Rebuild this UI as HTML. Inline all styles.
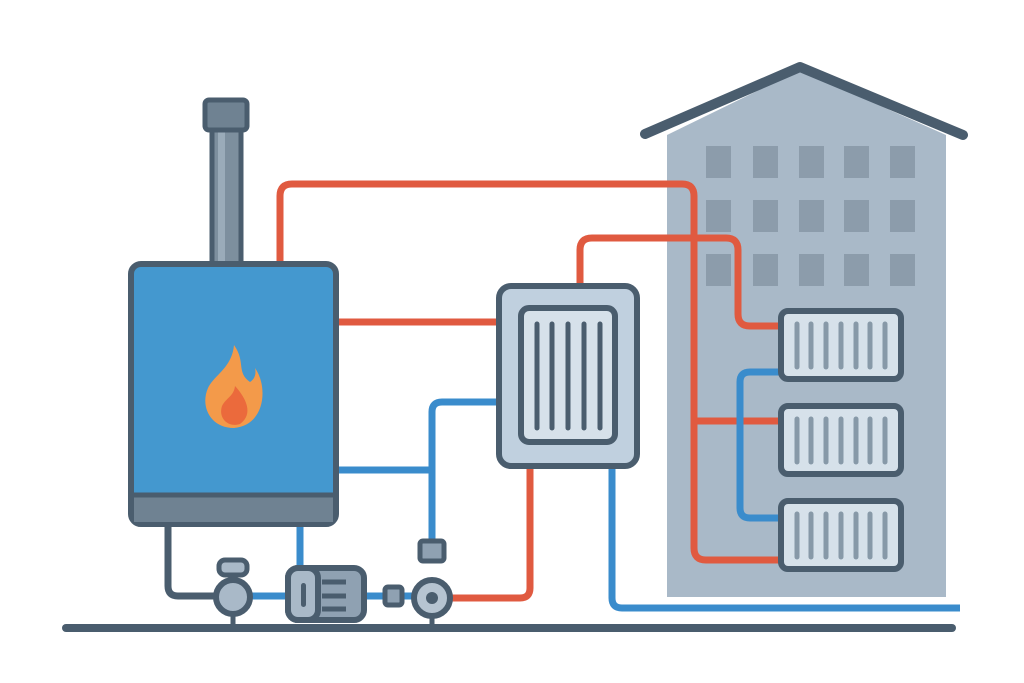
<!DOCTYPE html>
<html><head><style>html,body{margin:0;padding:0;background:#fff}svg{display:block}</style></head>
<body>
<svg width="1024" height="683" viewBox="0 0 1024 683" xmlns="http://www.w3.org/2000/svg">
<rect width="1024" height="683" fill="#fff"/>
<!-- building -->
<polygon points="667,135 800,70 946,135 946,597 667,597" fill="#a9b9c8"/>
<polyline points="645,134 800,67 963,135" fill="none" stroke="#4a5d6e" stroke-width="10" stroke-linejoin="round" stroke-linecap="round"/>
<g fill="#8c9cab">
<rect x="706" y="146" width="25" height="32"/><rect x="753" y="146" width="25" height="32"/><rect x="799" y="146" width="25" height="32"/><rect x="844" y="146" width="25" height="32"/><rect x="890" y="146" width="25" height="32"/>
<rect x="706" y="200" width="25" height="32"/><rect x="753" y="200" width="25" height="32"/><rect x="799" y="200" width="25" height="32"/><rect x="844" y="200" width="25" height="32"/><rect x="890" y="200" width="25" height="32"/>
<rect x="706" y="254" width="25" height="32"/><rect x="753" y="254" width="25" height="32"/><rect x="799" y="254" width="25" height="32"/><rect x="844" y="254" width="25" height="32"/><rect x="890" y="254" width="25" height="32"/>
</g>
<!-- pipes -->
<g fill="none" stroke-width="7" stroke-linejoin="round">
<path d="M280,264 V196 Q280,184 292,184 H682 Q694,184 694,196 V548 Q694,560 706,560 H782" stroke="#e05a40"/>
<path d="M694,421 H782" stroke="#e05a40"/>
<path d="M580,285 V250 Q580,238 592,238 H726 Q738,238 738,250 V314 Q738,326 750,326 H782" stroke="#e05a40"/>
<path d="M337,322 H500" stroke="#e05a40"/>
<path d="M530,466 V588 Q530,598 520,598 H450" stroke="#e05a40"/>
<path d="M782,372 H750 Q740,372 740,382 V508 Q740,518 750,518 H782" stroke="#3a8ccc"/>
<path d="M612,466 V598 Q612,608 622,608 H960" stroke="#3a8ccc"/>
<path d="M500,402 H442 Q432,402 432,412 V545" stroke="#3a8ccc"/>
<path d="M337,470 H432" stroke="#3a8ccc"/>
<path d="M300,524 V570" stroke="#3a8ccc"/>
<path d="M250,596 H290 M362,596 H390 M400,596 H420" stroke="#3a8ccc"/>
<path d="M168,525 V586 Q168,596 178,596 H218" stroke="#4a5d6e"/>
</g>
<!-- ground -->
<line x1="66" y1="628" x2="952" y2="628" stroke="#4a5d6e" stroke-width="8" stroke-linecap="round"/>
<!-- chimney -->
<rect x="212" y="128" width="29" height="136" fill="#7d8f9e" stroke="#4a5d6e" stroke-width="5"/>
<rect x="218" y="131" width="7" height="130" fill="#9aabb9"/>
<rect x="205" y="100" width="42" height="30" rx="4" fill="#6f8292" stroke="#4a5d6e" stroke-width="5"/>
<!-- boiler -->
<rect x="131" y="264" width="205" height="260" rx="10" fill="#4498cf" stroke="#4a5d6e" stroke-width="6"/>
<rect x="134" y="495" width="199" height="27" fill="#6f8292"/>
<line x1="134" y1="495" x2="333" y2="495" stroke="#4a5d6e" stroke-width="5"/>
<path d="M234,345 C246,362 236,372 250,382 C256,378 256,372 255,368 C268,386 266,425 234,428 C210,428 200,406 208,388 C214,375 232,368 234,345 Z" fill="#f39a4a"/>
<path d="M235,386 C246,398 254,414 240,424 C228,428 218,418 222,406 C226,398 234,396 235,386 Z" fill="#eb6a3c"/>
<!-- heat exchanger -->
<rect x="499" y="286" width="138" height="180" rx="12" fill="#c0d0df" stroke="#4a5d6e" stroke-width="6"/>
<rect x="521" y="308" width="94" height="134" rx="8" fill="#d6e1ea" stroke="#4a5d6e" stroke-width="6"/>
<g stroke="#4a5d6e" stroke-width="5" stroke-linecap="round">
<line x1="537" y1="324" x2="537" y2="428"/><line x1="552" y1="324" x2="552" y2="428"/><line x1="568" y1="324" x2="568" y2="428"/><line x1="584" y1="324" x2="584" y2="428"/><line x1="600" y1="324" x2="600" y2="428"/>
</g>
<!-- radiators -->
<g id="rad">
<rect x="781" y="311" width="120" height="68" rx="7" fill="#d6e1ea" stroke="#4a5d6e" stroke-width="6"/>
<g stroke="#8799a8" stroke-width="5" stroke-linecap="round">
<line x1="797" y1="324" x2="797" y2="367"/><line x1="811" y1="324" x2="811" y2="367"/><line x1="826" y1="324" x2="826" y2="367"/><line x1="841" y1="324" x2="841" y2="367"/><line x1="856" y1="324" x2="856" y2="367"/><line x1="870" y1="324" x2="870" y2="367"/><line x1="885" y1="324" x2="885" y2="367"/>
</g>
</g>
<use href="#rad" y="95"/>
<use href="#rad" y="190"/>
<!-- pumps -->
<rect x="219" y="560" width="28" height="15" rx="6" fill="#a9b9c8" stroke="#4a5d6e" stroke-width="5"/>
<line x1="233" y1="575" x2="233" y2="582" stroke="#4a5d6e" stroke-width="5"/>
<circle cx="233" cy="597" r="17" fill="#a9b9c8" stroke="#4a5d6e" stroke-width="6"/>
<line x1="233" y1="614" x2="233" y2="625" stroke="#4a5d6e" stroke-width="5"/>
<rect x="288" y="568" width="76" height="52" rx="10" fill="#8fa1b2" stroke="#4a5d6e" stroke-width="6"/>
<rect x="288" y="568" width="30" height="52" rx="10" fill="#a9b9c8" stroke="#4a5d6e" stroke-width="6"/>
<rect x="301" y="583" width="5" height="24" rx="2.5" fill="#4a5d6e"/>
<path d="M322,582 H346 M322,596 H346 M322,609 H346" stroke="#4a5d6e" stroke-width="5"/>
<rect x="385" y="587" width="17" height="18" rx="3" fill="#8fa1b2" stroke="#4a5d6e" stroke-width="5"/>
<rect x="420" y="541" width="24" height="20" rx="3" fill="#8fa1b2" stroke="#4a5d6e" stroke-width="5"/>
<circle cx="432" cy="598" r="18" fill="#b6c4d1" stroke="#4a5d6e" stroke-width="6"/>
<circle cx="432" cy="598" r="6" fill="#4a5d6e"/>
<line x1="432" y1="616" x2="432" y2="625" stroke="#4a5d6e" stroke-width="5"/>
</svg>
</body></html>
